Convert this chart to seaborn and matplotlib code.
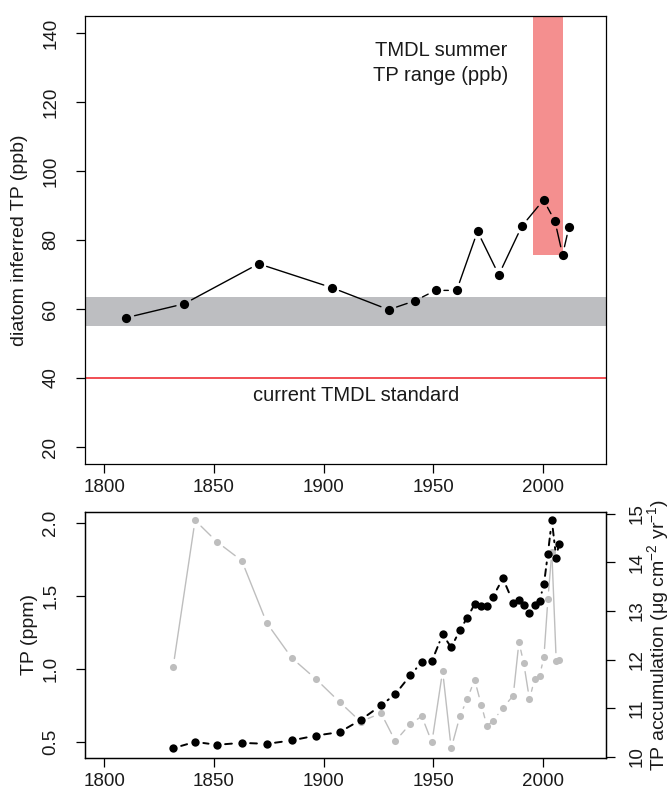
import numpy as np
import pandas as pd
import seaborn as sns
import matplotlib.pyplot as plt

# -----------------------------
# data
# -----------------------------
# top panel: diatom inferred TP
diatom_year = [1810.1, 1836.4, 1870.4, 1903.7, 1929.7, 1941.7, 1951.1, 1960.7,
               1970.2, 1979.9, 1990.4, 2000.3, 2005.5, 2009.0, 2011.9]
diatom_tp = [57.5, 61.5, 73.1, 66.2, 59.8, 62.4, 65.4, 65.4,
             82.5, 69.9, 84.0, 91.6, 85.5, 75.7, 83.7]

# reference band, standard and TMDL summer range
band_lo, band_hi = 55.0, 63.5
tmdl_standard = 40
tmdl_x0, tmdl_x1 = 1995.5, 2009.3
tmdl_lo, tmdl_hi = 75.7, 200

# bottom panel: sediment core
core_year = [1831.4, 1841.4, 1851.3, 1862.7, 1874.1, 1885.5, 1896.5, 1907.3,
             1916.9, 1926.2, 1932.7, 1939.6, 1944.8, 1949.4, 1954.3, 1958.2,
             1962.2, 1965.5, 1968.9, 1971.9, 1974.5, 1977.2, 1981.8, 1986.5,
             1989.1, 1991.3, 1993.9, 1996.2, 1998.5, 2000.5, 2002.3, 2004.1,
             2006.1, 2007.3]
tp_ppm = [1.015, 2.016, 1.87, 1.74, 1.314, 1.075, 0.931, 0.774,
          0.639, 0.698, 0.507, 0.625, 0.676, 0.498, 0.986, 0.457,
          0.678, 0.794, 0.926, 0.755, 0.611, 0.642, 0.735, 0.817,
          1.184, 1.038, 0.792, 0.929, 0.951, 1.083, 1.476, 1.80,
          1.054, 1.061]
tp_accum = [10.18, 10.31, 10.25, 10.29, 10.27, 10.34, 10.44, 10.51,
            10.76, 11.06, 11.29, 11.68, 11.95, 11.97, 12.52, 12.25,
            12.61, 12.86, 13.14, 13.11, 13.10, 13.29, 13.67, 13.17,
            13.22, 13.13, 12.95, 13.13, 13.21, 13.55, 14.18, 14.86,
            14.09, 14.37]

year_ticks = [1800, 1850, 1900, 1950, 2000]

top = pd.DataFrame({"year": diatom_year, "tp": diatom_tp})
core = pd.DataFrame({"year": core_year, "ppm": tp_ppm, "accum": tp_accum})

# -----------------------------
# style
# -----------------------------
sns.set_theme(style="ticks")
plt.rcParams['font.family'] = ['Liberation Sans', 'DejaVu Sans']
plt.rcParams['mathtext.default'] = 'regular'
plt.rcParams['axes.edgecolor'] = 'black'
plt.rcParams['axes.linewidth'] = 0.9
txt = '#1a1a1a'


def type_b(ax, x, y, color, lw, ls='-', gap=6):
    # R style type="b": segments stop short of the points
    for i in range(len(x) - 1):
        ax.annotate('', xy=(x[i + 1], y[i + 1]), xytext=(x[i], y[i]),
                    arrowprops=dict(arrowstyle='-', color=color, lw=lw,
                                    linestyle=ls, shrinkA=gap, shrinkB=gap),
                    zorder=2)


fig = plt.figure(figsize=(6.71, 7.92), dpi=100)
W, H = 671, 792
ax1 = fig.add_axes([85 / W, 1 - 463.6 / H, 521 / W, 447.2 / H])
ax2 = fig.add_axes([85 / W, 1 - 757.7 / H, 521 / W, 246 / H])
ax3 = ax2.twinx()

# -----------------------------
# top panel
# -----------------------------
ax1.axhspan(band_lo, band_hi, color='#BDBEC1', lw=0, zorder=0)
ax1.fill_between([tmdl_x0, tmdl_x1], tmdl_lo, tmdl_hi, color='#F48F8F', lw=0, zorder=1)
ax1.axhline(tmdl_standard, color='#EE1C25', lw=1.1, zorder=1)
type_b(ax1, top["year"].values, top["tp"].values, 'black', 1.0)
sns.scatterplot(data=top, x="year", y="tp", ax=ax1, color='black', s=44,
                linewidth=0, zorder=3)

ax1.text(1953.5, 131.4, "TMDL summer\nTP range (ppb)", ha='center', va='center',
         fontsize=14.5, color=txt, linespacing=1.4)
ax1.text(1914.9, 35.0, "current TMDL standard", ha='center', va='center',
         fontsize=14.5, color=txt)

ax1.set_xlim(1791.2, 2028.8)
ax1.set_ylim(15.2, 144.8)
ax1.set_xticks(year_ticks, [str(t) for t in year_ticks])
ax1.set_yticks(list(range(20, 141, 20)), [str(t) for t in range(20, 141, 20)],
               rotation=90, va='center')
ax1.set_xlabel('')
ax1.set_ylabel('diatom inferred TP (ppb)', fontsize=14, color=txt, va='center')
ax1.yaxis.set_label_coords(-0.125, 0.5)

# -----------------------------
# bottom panel
# -----------------------------
type_b(ax2, core["year"].values, core["ppm"].values, '#BEBEBE', 1.0)
sns.scatterplot(data=core, x="year", y="ppm", ax=ax2, color='#BEBEBE', s=26,
                linewidth=0, zorder=3)
type_b(ax3, core["year"].values, core["accum"].values, 'black', 1.4,
       ls=(0, (3.5, 2.5, 1, 2.5)))
sns.scatterplot(data=core, x="year", y="accum", ax=ax3, color='black', s=36,
                linewidth=0, zorder=3)

ax2.set_xlim(1791.2, 2028.8)
ax2.set_ylim(0.393, 2.075)
ax3.set_ylim(9.985, 15.04)
ax2.set_xticks(year_ticks, [str(t) for t in year_ticks])
ax2.set_yticks([0.5, 1.0, 1.5, 2.0], ['0.5', '1.0', '1.5', '2.0'],
               rotation=90, va='center')
ax3.set_yticks(list(range(10, 16)), [str(t) for t in range(10, 16)],
               rotation=90, va='center')
ax2.set_xlabel('')
ax2.set_ylabel('TP (ppm)', fontsize=14, color=txt, va='center')
ax2.yaxis.set_label_coords(-0.106, 0.5)
ax3.set_ylabel('TP accumulation (μg cm$^{-2}$ yr$^{-1}$)', fontsize=14,
               color=txt, va='center', rotation=90)
ax3.yaxis.set_label_coords(1.0998, 0.5)

for ax in (ax1, ax2, ax3):
    ax.tick_params(direction='out', length=6.5, width=0.9, labelsize=13.5,
                   labelcolor=txt, color='black')
    ax.tick_params(axis='x', pad=4.5)
    for sp in ax.spines.values():
        sp.set_visible(True)
        sp.set_color('black')
        sp.set_linewidth(0.9)
ax1.tick_params(axis='y', pad=12)
ax2.tick_params(axis='y', pad=12)
ax3.tick_params(axis='y', pad=10)

fig.savefig("out.png", dpi=100)
